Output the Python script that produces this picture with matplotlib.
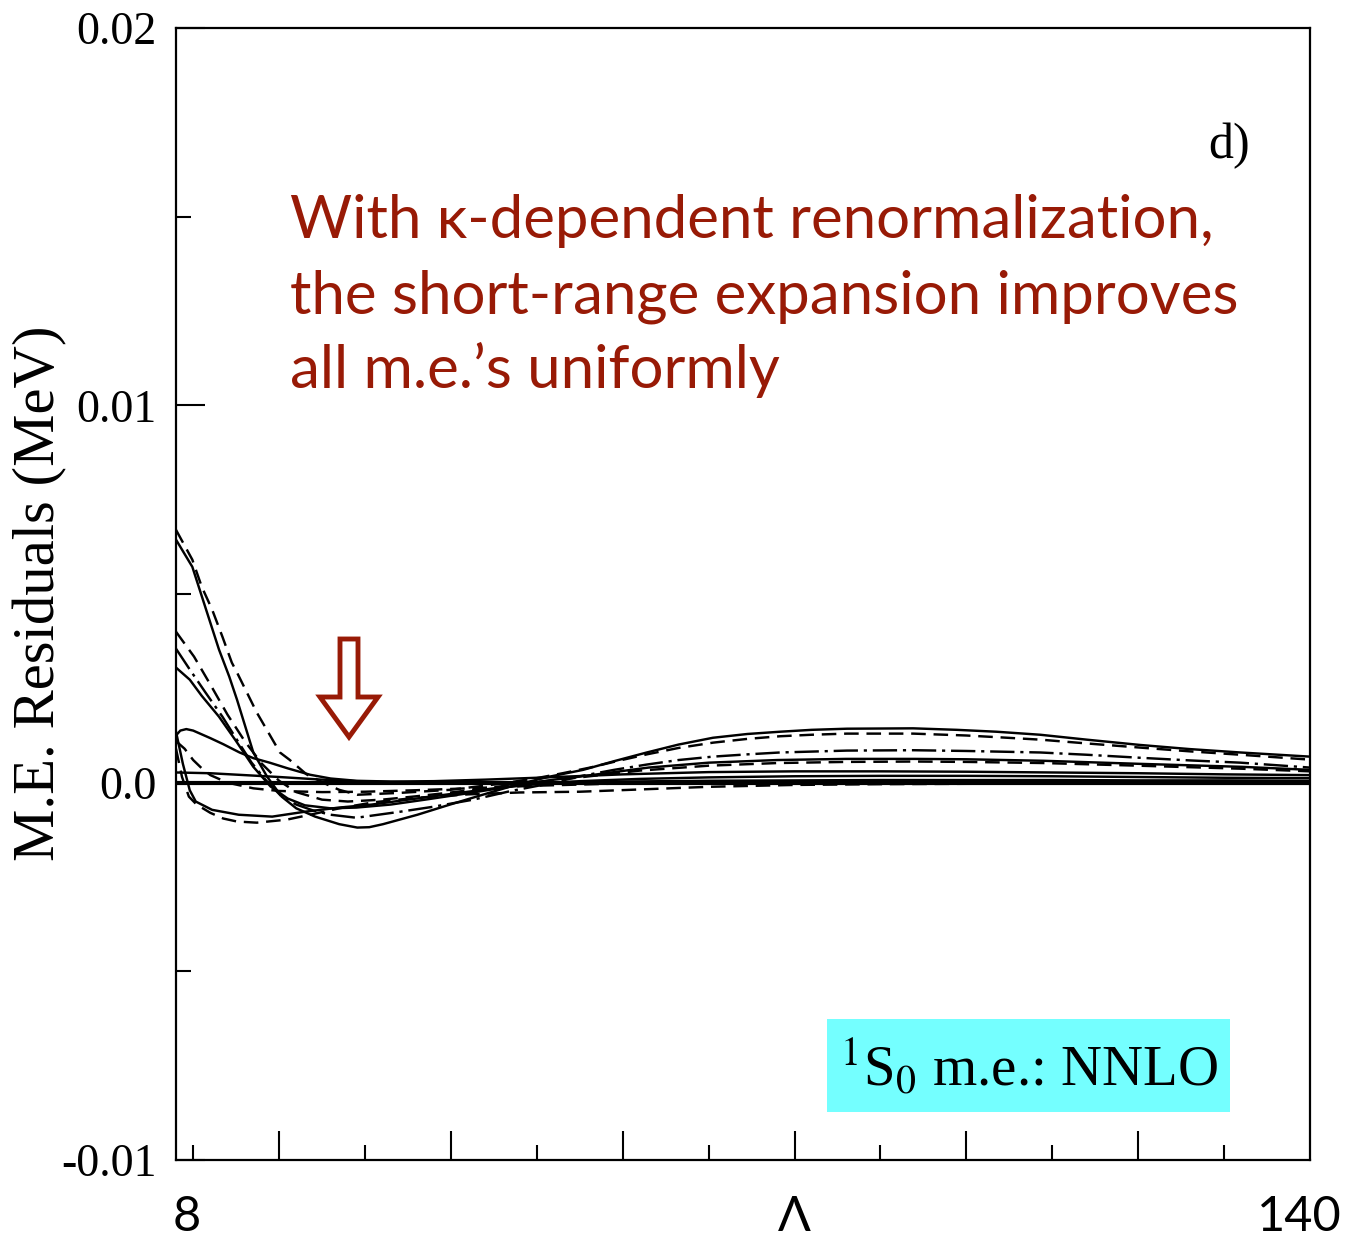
import matplotlib
matplotlib.use("Agg")
import matplotlib.pyplot as plt
import matplotlib.transforms as mtransforms
from matplotlib.patches import Polygon, Rectangle
from matplotlib.ticker import FixedLocator, NullFormatter

plt.rcParams['mathtext.fontset'] = 'stix'

# ---------------- data (residuals in units of 1e-3 MeV) ----------------
lam_A = [8.0, 9.9, 11.4, 13.0, 14.2, 15.1, 17.0, 18.6, 20.3, 22.0, 24.2, 27.0, 29.1, 30.5, 32.1, 36.1, 39.9,
         43.7, 47.7, 51.5, 55.4, 59.0, 62.8, 66.5, 70.5, 74.5, 78.3, 82.0, 86.1, 93.8, 98.9, 103.5, 108.6,
         114.0, 120.2, 126.0, 131.9, 140.0]
res_A = [6.44, 5.72, 4.66, 3.53, 2.81, 2.20, 0.80, 0.16, -0.37, -0.68, -0.90, -1.10, -1.19, -1.18, -1.10, -0.85, -0.58,
         -0.32, -0.05, 0.16, 0.34, 0.57, 0.80, 1.01, 1.19, 1.29, 1.35, 1.40, 1.43, 1.44, 1.40, 1.35, 1.27,
         1.14, 1.00, 0.89, 0.80, 0.69]

lam_B = [8.0, 9.9, 11.0, 12.2, 13.4, 14.5, 15.1, 17.4, 20.1, 21.2, 23.2, 25.6, 27.0, 29.1, 34.1, 39.9, 45.7, 50.0,
         53.0, 56.2, 59.5, 62.8, 66.5, 70.5, 74.5, 78.3, 82.0, 86.1, 93.8, 100.0, 104.0, 108.6, 114.0, 120.2,
         126.0, 131.9, 140.0]
res_B = [6.70, 5.91, 5.19, 4.59, 3.87, 3.18, 2.92, 1.86, 0.80, 0.61, 0.22, -0.05, -0.19, -0.32, -0.27, -0.19, -0.03, 0.12,
         0.25, 0.40, 0.58, 0.75, 0.92, 1.06, 1.16, 1.23, 1.27, 1.30, 1.30, 1.25, 1.20, 1.14, 1.04, 0.93,
         0.83, 0.74, 0.61]

lam_C = [8.0, 9.6, 11.4, 13.4, 15.3, 16.8, 18.4, 20.3, 22.0, 24.0, 26.0, 29.0, 34.1, 37.9, 42.6, 47.0, 52.0,
         55.0, 59.0, 62.8, 66.5, 70.5, 74.5, 78.3, 86.1, 93.8, 100.0, 108.6, 114.0, 120.2, 126.0, 131.9, 140.0]
res_C = [3.55, 3.00, 2.40, 1.75, 1.06, 0.53, 0.08, -0.37, -0.58, -0.74, -0.85, -0.93, -0.77, -0.64, -0.45, -0.22, 0.00,
         0.17, 0.34, 0.48, 0.60, 0.69, 0.75, 0.80, 0.85, 0.86, 0.84, 0.80, 0.74, 0.66, 0.59, 0.53, 0.40]

lam_D = [8.0, 9.6, 11.0, 13.0, 15.0, 17.0, 19.0, 21.0, 23.0, 26.0, 29.0, 33.0, 37.0, 42.0, 47.0, 52.0, 57.0,
         63.0, 70.0, 78.0, 86.0, 94.0, 100.0, 109.0, 120.0, 132.0, 140.0]
res_D = [3.05, 2.73, 2.30, 1.75, 1.10, 0.42, -0.10, -0.42, -0.60, -0.68, -0.66, -0.58, -0.45, -0.28, -0.10, 0.08, 0.22,
         0.40, 0.53, 0.60, 0.63, 0.63, 0.62, 0.58, 0.50, 0.42, 0.34]

lam_E = [8.0, 10.1, 12.0, 14.0, 16.0, 18.0, 20.0, 22.0, 25.0, 28.0, 32.0, 36.0, 40.0, 45.0, 50.0, 55.0, 62.0,
         70.0, 78.0, 86.0, 94.0, 100.0, 109.0, 120.0, 132.0, 140.0]
res_E = [4.00, 3.34, 2.60, 1.80, 1.10, 0.50, 0.05, -0.25, -0.45, -0.50, -0.45, -0.36, -0.26, -0.12, 0.02, 0.14, 0.32,
         0.45, 0.52, 0.55, 0.56, 0.55, 0.52, 0.45, 0.37, 0.30]

lam_F = [8.0, 8.5, 9.2, 10.0, 11.0, 12.0, 13.5, 15.4, 17.0, 18.9, 21.0, 23.6, 26.0, 29.0, 33.0, 38.0, 44.0,
         50.0, 60.0, 70.0, 80.0, 90.0, 100.0, 110.0, 120.0, 130.0, 140.0]
res_F = [1.25, 1.38, 1.42, 1.38, 1.28, 1.18, 1.02, 0.80, 0.65, 0.53, 0.38, 0.21, 0.11, 0.05, 0.03, 0.04, 0.08,
         0.13, 0.22, 0.28, 0.30, 0.30, 0.29, 0.27, 0.25, 0.22, 0.20]

lam_G = [8.0, 8.8, 9.6, 10.3, 12.2, 15.3, 19.2, 23.0, 27.0, 30.8, 35.0, 40.0, 45.0, 50.0, 55.0, 62.0, 70.0,
         80.0, 90.0, 100.0, 110.0, 120.0, 130.0, 140.0]
res_G = [1.35, 0.50, -0.20, -0.50, -0.72, -0.85, -0.90, -0.77, -0.66, -0.58, -0.45, -0.30, -0.15, -0.04, 0.04, 0.10, 0.14,
         0.17, 0.18, 0.18, 0.17, 0.15, 0.13, 0.12]

lam_H = [8.0, 12.0, 16.0, 20.0, 25.0, 30.0, 35.0, 40.0, 50.0, 60.0, 70.0, 80.0, 90.0, 100.0, 110.0, 120.0, 130.0, 140.0]
res_H = [0.27, 0.25, 0.20, 0.15, 0.08, 0.03, 0.01, 0.00, 0.01, 0.03, 0.05, 0.06, 0.07, 0.07, 0.07, 0.06, 0.06, 0.05]

lam_K = [8.0, 8.7, 9.5, 10.4, 12.0, 13.5, 15.1, 17.4, 20.9, 23.6, 27.0, 31.0, 36.0, 42.0, 48.0, 55.0, 62.0,
         70.0, 80.0, 90.0, 100.0, 120.0, 140.0]
res_K = [0.90, 0.15, -0.37, -0.58, -0.80, -0.95, -1.03, -1.06, -0.98, -0.85, -0.68, -0.52, -0.40, -0.31, -0.26, -0.24, -0.18,
         -0.11, -0.06, -0.04, -0.03, -0.02, -0.01]

lam_M = [8.0, 9.0, 10.0, 11.0, 12.0, 14.0, 17.0, 20.0, 25.0, 30.0, 36.0, 42.0, 50.0, 60.0, 70.0, 80.0, 100.0, 120.0, 140.0]
res_M = [1.10, 0.90, 0.60, 0.38, 0.20, 0.00, -0.15, -0.22, -0.25, -0.24, -0.20, -0.15, -0.08, -0.02, 0.00, 0.02, 0.03, 0.03, 0.02]

series = [
    (lam_A, res_A, 'solid'),
    (lam_B, res_B, 'dashed'),
    (lam_C, res_C, 'dashdot'),
    (lam_D, res_D, 'solid'),
    (lam_E, res_E, 'dashed'),
    (lam_F, res_F, 'solid'),
    (lam_G, res_G, 'solid'),
    (lam_H, res_H, 'solid'),
    (lam_K, res_K, 'dashed'),
    (lam_M, res_M, 'dashed'),
]

y_ticks = [-0.01, 0.0, 0.01, 0.02]
y_ticklabels = ['-0.01', '0.0', '0.01', '0.02']
x_labels = ['8', 'Λ', '140']
x_label_pos = [9.2, 80.0, 138.8]

text_lines = ['With κ-dependent renormalization,',
              'the short-range expansion improves',
              "all m.e.’s uniformly"]

red = '#981A06'
styles = {'solid': '-', 'dashed': (0, (6, 3.2)), 'dashdot': (0, (10, 2.4, 1.3, 2.4))}

# ---------------- figure ----------------
W, H = 1347, 1244
fig = plt.figure(figsize=(W / 100, H / 100), dpi=100)
ax = fig.add_axes([176 / W, 1 - 1160 / H, (1310 - 176) / W, (1160 - 28) / H])

ax.axhline(0.0, color='black', lw=3.0, zorder=2)
for lam, res, st in series:
    ax.plot(lam, [r * 1e-3 for r in res], color='black', lw=1.75, linestyle=styles[st], zorder=3)

ax.set_xlim(8, 140)
ax.set_ylim(-0.01, 0.02)

for s in ax.spines.values():
    s.set_linewidth(1.6)

ax.xaxis.set_major_locator(FixedLocator([20, 40, 60, 80, 100, 120]))
ax.xaxis.set_minor_locator(FixedLocator([10, 30, 50, 70, 90, 110, 130]))
ax.xaxis.set_major_formatter(NullFormatter())
ax.set_yticks(y_ticks)
ax.set_yticklabels(y_ticklabels, family='Liberation Serif', fontsize=33)
ax.yaxis.set_minor_locator(FixedLocator([-0.005, 0.005, 0.015]))
ax.tick_params(axis='both', which='major', direction='in', length=21, width=1.5,
               top=False, right=False)
ax.tick_params(axis='both', which='minor', direction='in', length=10.5, width=1.5,
               top=False, right=False)
ax.tick_params(axis='y', which='major', pad=14)

# x-axis labels
trans = mtransforms.blended_transform_factory(ax.transData, fig.transFigure)
for lab, xp in zip(x_labels, x_label_pos):
    fig.text(xp, 0.004, lab, transform=trans, ha='center', va='bottom',
             family=['Lato', 'DejaVu Sans'], fontsize=35)

# y label
ylab = fig.text(40 / W, 1 - 593 / H, 'M.E. Residuals (MeV)', rotation=90, ha='center', va='center',
                family='Liberation Serif', fontsize=40)

# annotation text
t_objs = []
baselines = [238, 313, 388]
for line, b in zip(text_lines, baselines):
    t = ax.text((290 - 176) / 1134, (1160 - b) / 1132, line, transform=ax.transAxes,
                ha='left', va='baseline', color=red, family=['Lato', 'DejaVu Sans'], fontsize=40)
    t_objs.append(t)

ax.text((1250 - 176) / 1134, (1160 - 158) / 1132, 'd)', transform=ax.transAxes, ha='right',
        va='baseline', family='Liberation Serif', fontsize=36)

# cyan box
ax.add_patch(Rectangle(((827 - 176) / 1134, (1160 - 1112) / 1132), (1230 - 827) / 1134, (1112 - 1019) / 1132,
                       transform=ax.transAxes, facecolor='#74FFFF', edgecolor='none', zorder=4))
boxt = ax.text(((827 + 1230) / 2 - 176) / 1134, (1160 - 1068) / 1132, r'$^{1}$S$_{0}$ m.e.: NNLO',
               transform=ax.transAxes, ha='center', va='center', family='Liberation Serif',
               fontsize=36, zorder=5)

# outlined arrow
xs = [(v - 176) / 1134 for v in [340, 358, 358, 378, 349, 320, 340]]
ys = [(1160 - v) / 1132 for v in [639, 639, 697, 697, 737, 697, 697]]
ax.add_patch(Polygon(list(zip(xs, ys)), closed=True, transform=ax.transAxes, facecolor='white',
                     edgecolor=red, lw=3.5, joinstyle='miter', zorder=6))

# fit text sizes to the reference widths
fig.canvas.draw()
r = fig.canvas.get_renderer()
def fit(t, target):
    bb = t.get_window_extent(r)
    L = max(bb.width, bb.height)
    t.set_fontsize(t.get_fontsize() * target / L)

w0 = t_objs[0].get_window_extent(r).width
scale = 923 / w0
for t in t_objs:
    t.set_fontsize(t.get_fontsize() * scale)
fit(ylab, 535)
fit(boxt, 378)

fig.savefig('out.png', dpi=100)
